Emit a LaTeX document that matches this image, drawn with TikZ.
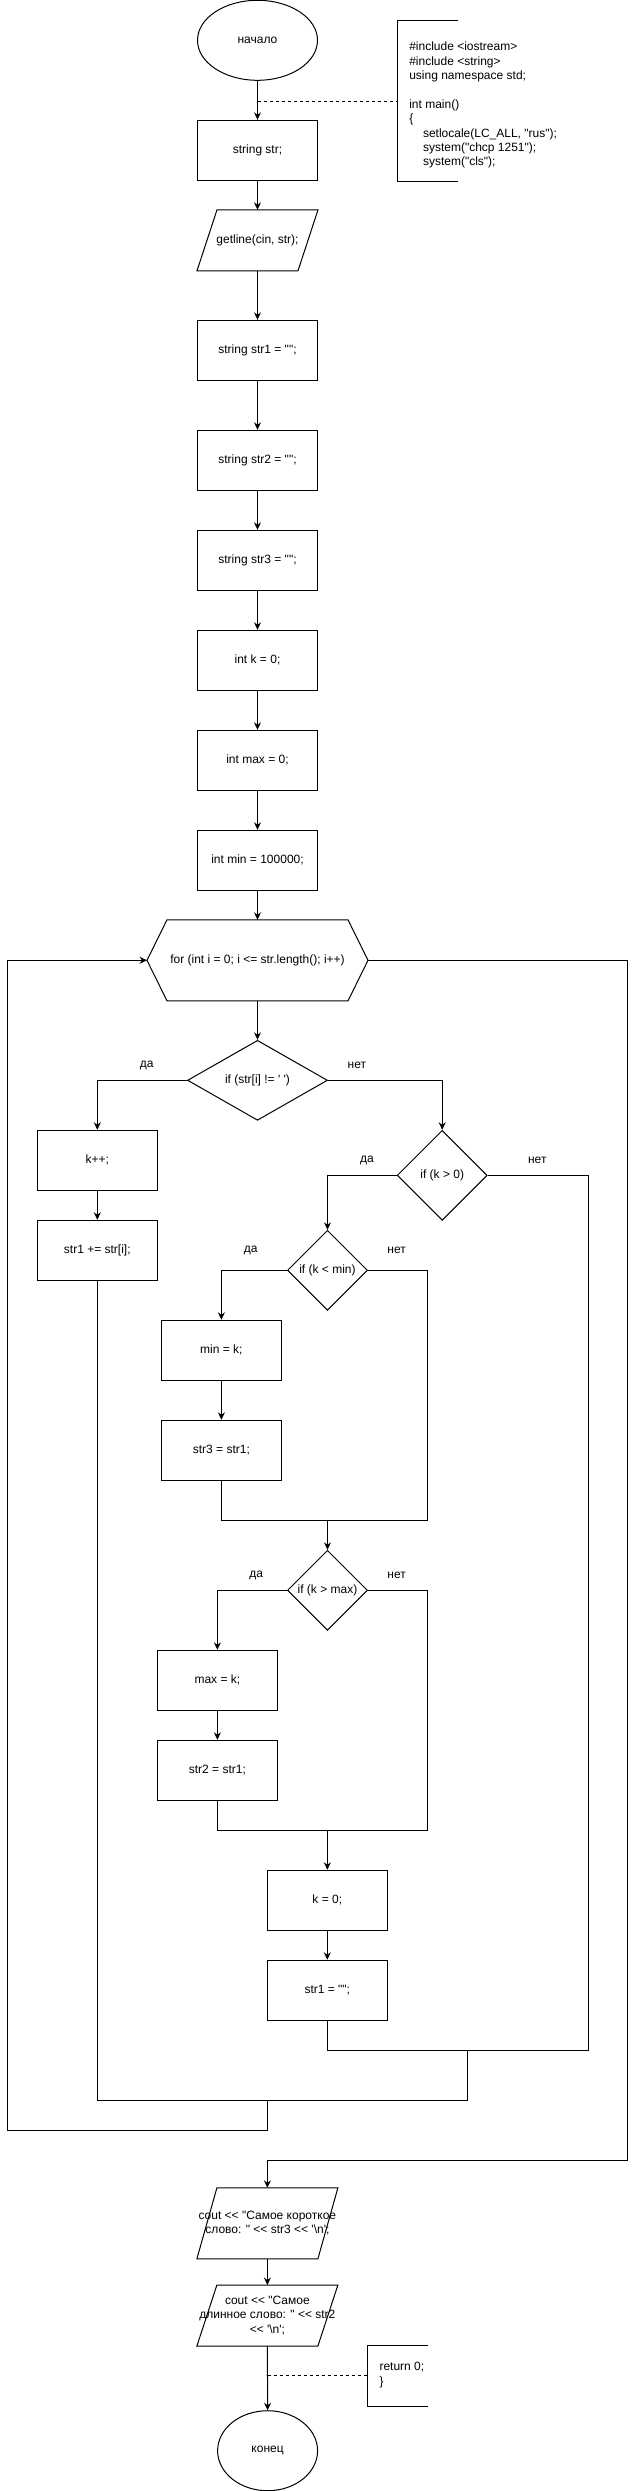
\documentclass[tikz,border=0pt]{standalone}
\usepackage{fontspec}
\setmainfont{Liberation Sans}[Ligatures=TeXOff]
\usetikzlibrary{arrows.meta,calc,shapes.geometric}
\begin{document}
\begin{tikzpicture}[x=1pt,y=-1pt, line width=1pt, font=\fontsize{12}{14.4}\selectfont,
  box/.style={draw, rectangle, minimum width=120pt, minimum height=60pt, inner sep=0pt, align=center},
  pgram/.style={rectangle, minimum width=120pt, minimum height=60pt, inner sep=0pt, align=center},
  dec/.style={draw, diamond, inner sep=0pt, align=center},
  term/.style={draw, ellipse, inner sep=0pt},
  lbl/.style={inner sep=0pt},
  note/.style={rectangle, inner sep=0pt},
  notetxt/.style={anchor=west, align=left, inner sep=0pt},
  arr/.style={-{Stealth[length=7.5pt,width=7pt,inset=2.5pt]}},
  dsh/.style={dash pattern=on 3pt off 3pt}]
\useasboundingbox (0,0) rectangle (636,2491);

% main column
\node[term, minimum width=120pt, minimum height=80pt] (start) at (257.5,40.3) {начало};
\node[box] (str) at (257.5,150.3) {string str;};
\node[pgram] (getline) at (257.5,240.3) {getline(cin, str);};
\node[box] (s1) at (257.5,350.3) {string str1 = "";};
\node[box] (s2d) at (257.5,460.3) {string str2 = "";};
\node[box] (s3d) at (257.5,560.3) {string str3 = "";};
\node[box] (ik) at (257.5,660.3) {int k = 0;};
\node[box] (imax) at (257.5,760.3) {int max = 0;};
\node[box] (imin) at (257.5,860.3) {int min = 100000;};
\node[rectangle, minimum width=220pt, minimum height=80pt, inner sep=0pt] (for) at (257.5,960.3) {for (int i = 0; i <= str.length(); i++)};
\node[dec, minimum width=140pt, minimum height=80pt, aspect=1.75] (d1) at (257.5,1080.3) {if (str[i] != ' ')};

% yes branch of d1
\node[box] (kpp) at (97.3,1160.3) {k++;};
\node[box] (sadd) at (97.3,1250.3) {str1 += str[i];};

% no branch of d1
\node[dec, minimum width=90pt, minimum height=90pt] (d2) at (442.2,1175.3) {if (k > 0)};
\node[dec, minimum width=80pt, minimum height=80pt] (d3) at (327.5,1270.3) {if (k < min)};
\node[box] (mink) at (221.4,1350.3) {min = k;};
\node[box] (s3a) at (221.4,1450.3) {str3 = str1;};
\node[dec, minimum width=80pt, minimum height=80pt] (d4) at (327.5,1590.3) {if (k > max)};
\node[box] (maxk) at (217.4,1680.3) {max = k;};
\node[box] (s2a) at (217.4,1770.3) {str2 = str1;};
\node[box] (k0) at (327.3,1900.3) {k = 0;};
\node[box] (s1c) at (327.3,1990.3) {str1 = "";};

% output
\node[pgram, minimum width=140pt, minimum height=70pt] (cout1) at (267.4,2223.3) {cout << "Самое короткое\\слово: " << str3 << '\textbackslash n';};
\node[pgram, minimum width=140pt, minimum height=60pt] (cout2) at (267.4,2315.5) {cout << "Самое\\длинное слово: " << str2\\<< '\textbackslash n';};
\node[term, minimum width=100pt, minimum height=80pt] (end) at (267.6,2450.7) {конец};

% outlines of parallelograms and hexagon
\foreach \n in {getline,cout1,cout2}
  \draw ($(\n.north west)+(20,0)$) -- (\n.north east) -- ($(\n.south east)+(-20,0)$) -- (\n.south west) -- cycle;
\draw (for.west) -- ($(for.north west)+(20,0)$) -- ($(for.north east)+(-20,0)$) -- (for.east)
  -- ($(for.south east)+(-20,0)$) -- ($(for.south west)+(20,0)$) -- cycle;

% labels
\node[lbl] (l1y) at (146.8,1065) {да};
\node[lbl] (l1n) at (356.9,1065) {нет};
\node[lbl] (l2y) at (367,1160) {да};
\node[lbl] (l2n) at (537.3,1160) {нет};
\node[lbl] (l3y) at (250.6,1250) {да};
\node[lbl] (l3n) at (396.6,1250) {нет};
\node[lbl] (l4y) at (256.3,1575) {да};
\node[lbl] (l4n) at (396.6,1575) {нет};

% annotations
\node[note, anchor=north west, minimum width=60pt, minimum height=160pt] (code) at (397.4,20.7) {};
\draw (code.north east) -- (code.north west) -- (code.south west) -- (code.south east);
\node[notetxt] (codetxt) at (408.8,105.2) {\#include <iostream>\\\#include <string>\\using namespace std;\\[14.4pt]int main()\\\{\\\hspace*{13.7pt}setlocale(LC\_ALL, "rus");\\\hspace*{13.7pt}system("chcp 1251");\\\hspace*{13.7pt}system("cls");};
\draw[dsh] (start.south |- code.west) -- (code.west);

\node[note, anchor=north west, minimum width=60pt, minimum height=60pt] (ret) at (367.4,2345.3) {};
\draw (ret.north east) -- (ret.north west) -- (ret.south west) -- (ret.south east);
\node[notetxt] (rettxt) at (379,2375) {return 0;\\\}};
\draw[dsh] (end.north |- ret.west) -- (ret.west);

% main connectors
\draw[arr] (start.south) -- (str.north);
\draw[arr] (str.south) -- (getline.north);
\draw[arr] (getline.south) -- (s1.north);
\draw[arr] (s1.south) -- (s2d.north);
\draw[arr] (s2d.south) -- (s3d.north);
\draw[arr] (s3d.south) -- (ik.north);
\draw[arr] (ik.south) -- (imax.north);
\draw[arr] (imax.south) -- (imin.north);
\draw[arr] (imin.south) -- (for.north);
\draw[arr] (for.south) -- (d1.north);

\draw[arr] (d1.west) -| (kpp.north);
\draw[arr] (kpp.south) -- (sadd.north);
\draw[arr] (d1.east) -| (d2.north);
\draw[arr] (d2.west) -| (d3.north);
\draw[arr] (d3.west) -| (mink.north);
\draw[arr] (mink.south) -- (s3a.north);

\coordinate (j3) at (427,1520.3);
\draw (d3.east) -| (j3) -- (j3 -| s3a.south) -- (s3a.south);
\draw[arr] (j3 -| d4.north) -- (d4.north);

\draw[arr] (d4.west) -| (maxk.north);
\draw[arr] (maxk.south) -- (s2a.north);
\coordinate (j4) at (427,1830.3);
\draw (d4.east) -| (j4) -- (j4 -| s2a.south) -- (s2a.south);
\draw[arr] (j4 -| k0.north) -- (k0.north);
\draw[arr] (k0.south) -- (s1c.north);

\coordinate (j2) at (588,2050.3);
\draw (d2.east) -| (j2) -- (j2 -| s1c.south) -- (s1c.south);
\coordinate (j1) at (467.2,2100.3);
\draw (j2 -| j1) -- (j1) -- (j1 -| sadd.south) -- (sadd.south);

\coordinate (jx) at (267.2,2100.3);
\coordinate (jl) at (7.3,2130.3);
\draw[arr] (jx) -- (jx |- jl) -- (jl) -- (jl |- for.west) -- (for.west);

\coordinate (je) at (627.3,2160.3);
\draw[arr] (for.east) -| (je) -- (je -| cout1.north) -- (cout1.north);
\draw[arr] (cout1.south) -- (cout2.north);
\draw[arr] (cout2.south) -- (end.north);
\end{tikzpicture}
\end{document}
